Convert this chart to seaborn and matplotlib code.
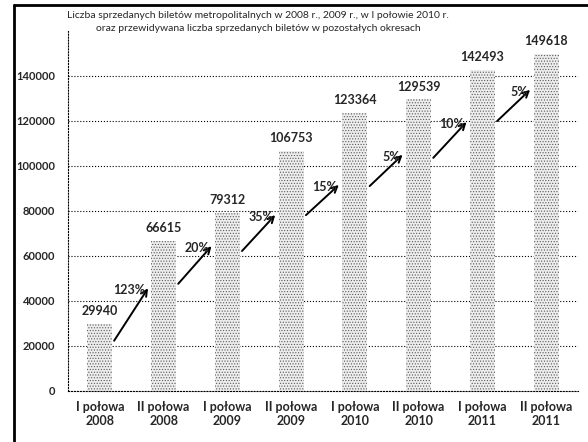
import pandas as pd
import numpy as np
import matplotlib.pyplot as plt
from matplotlib.lines import Line2D
import seaborn as sns

sns.set_style("white")
plt.rcParams['font.family'] = ['Lato', 'DejaVu Sans']
plt.rcParams['hatch.color'] = '#5a5a5a'
plt.rcParams['hatch.linewidth'] = 0.5

# dane
okresy = ['I połowa\n2008', 'II połowa\n2008', 'I połowa\n2009', 'II połowa\n2009',
          'I połowa\n2010', 'II połowa\n2010', 'I połowa\n2011', 'II połowa\n2011']
bilety = [29940, 66615, 79312, 106753, 123364, 129539, 142493, 149618]

# strzałki wzrostu (od / do, wartości na osi y)
wzrost = ['123%', '20%', '35%', '15%', '5%', '10%', '5%']
strz_od = [21300, 46700, 61300, 77300, 90200, 102700, 119100]
strz_do = [46700, 65300, 79100, 92400, 105800, 120400, 134700]

df = pd.DataFrame({'okres': okresy, 'bilety': bilety})

fig = plt.figure(figsize=(5.88, 4.42), dpi=100)
ax = fig.add_axes([0.1156, 0.1154, 0.8674, 0.8146])

sns.barplot(data=df, x='okres', y='bilety', color='#ededed', width=0.39, ax=ax,
            saturation=1)
for p in ax.patches:
    p.set_hatch('......')
    p.set_edgecolor('#5a5a5a')
    p.set_linewidth(0)

ax.set_ylim(0, 160000)
ax.set_xlim(-0.5, 7.5)
ax.set_yticks(range(0, 140001, 20000))
ax.grid(axis='y', color='black', linestyle=':', linewidth=0.8)
ax.set_axisbelow(True)
for s in ['top', 'right']:
    ax.spines[s].set_visible(False)
for s in ['left', 'bottom']:
    ax.spines[s].set_linestyle(':')
    ax.spines[s].set_linewidth(0.8)
    ax.spines[s].set_color('black')
ax.set_xlabel('')
ax.set_ylabel('')
ax.tick_params(axis='x', length=0, labelsize=9, pad=7)
ax.tick_params(axis='y', length=0, labelsize=8, pad=9)
for t in ax.get_xticklabels() + ax.get_yticklabels():
    t.set_fontweight('bold')

# etykiety wartości
for i, v in enumerate(bilety):
    ax.annotate(str(v), (i, v), xytext=(0, 5), textcoords='offset points',
                ha='center', va='bottom', fontsize=9, fontweight='bold')

# strzałki z procentami
for i, lab in enumerate(wzrost):
    x0, x1 = i + 0.2, i + 0.78
    ax.annotate('', xy=(x1, strz_do[i]), xytext=(x0, strz_od[i]),
                arrowprops=dict(arrowstyle='->', color='black', lw=1.4,
                                mutation_scale=11))
    ax.annotate(lab, (x1, strz_do[i]), xytext=(-3, -3), textcoords='offset points',
                ha='right', va='center', fontsize=9, fontweight='bold')

fig.text(0.439, 0.966, 'Liczba sprzedanych biletów metropolitalnych w 2008 r., 2009 r., w I połowie 2010 r.',
         ha='center', va='center', fontsize=7.5)
fig.text(0.439, 0.936, 'oraz przewidywana liczba sprzedanych biletów w pozostałych okresach',
         ha='center', va='center', fontsize=7.5)

# ramka jak na skanie
fig.add_artist(Line2D([0.024, 1.0], [0.989, 0.989], color='black', lw=2,
                      transform=fig.transFigure))
fig.add_artist(Line2D([0.024, 0.024], [0.0, 0.989], color='black', lw=2,
                      transform=fig.transFigure))

fig.savefig('out.png', dpi=100)
